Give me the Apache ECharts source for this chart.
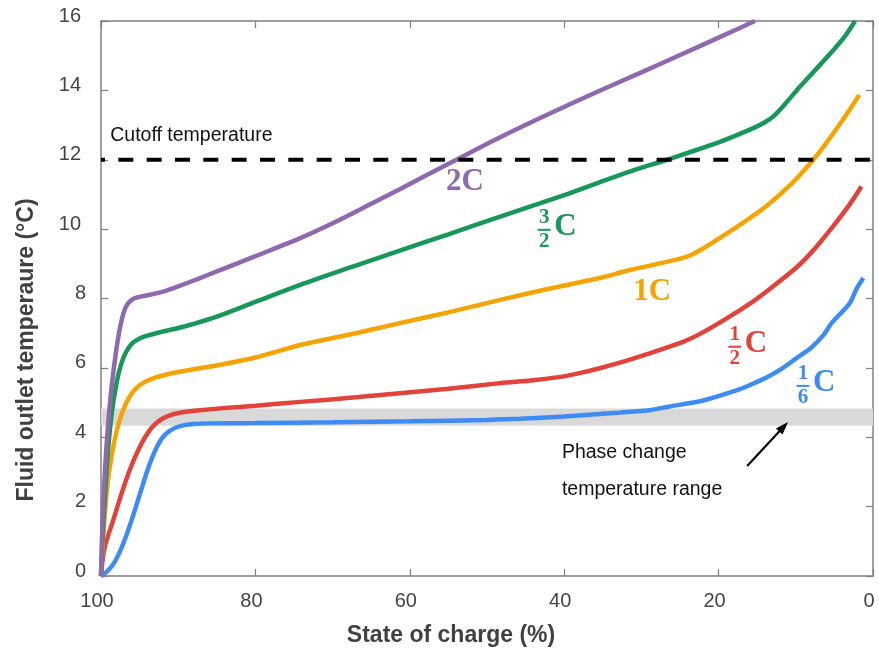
<!DOCTYPE html>
<html>
<head>
<meta charset="utf-8">
<script src="https://cdn.jsdelivr.net/npm/echarts@6/dist/echarts.min.js"></script>
<style>
  html, body { margin: 0; padding: 0; background: #ffffff; }
  #chart { width: 879px; height: 653px; }
</style>
</head>
<body>
<div id="chart"></div>
<script>
// Outlet temperature (°C) against state of charge (%) for five discharge rates
const socTicks = [100, 80, 60, 40, 20, 0];
const tempTicks = [0, 2, 4, 6, 8, 10, 12, 14, 16];

const curve2C = [
  [100, 0], [99.8, 1.6], [99.5, 3.0], [99.1, 4.3], [98.6, 5.5], [98.0, 6.55],
  [97.4, 7.3], [96.8, 7.75], [96.1, 7.95], [95.3, 8.03], [94.3, 8.08], [93.0, 8.14],
  [91.5, 8.23], [90.0, 8.35], [87.5, 8.56], [85.0, 8.78], [80, 9.22], [74.2, 9.74],
  [70, 10.17], [65, 10.73], [61.3, 11.15], [54.4, 11.95], [48.3, 12.65], [42, 13.32],
  [35.4, 13.99], [30, 14.52], [25, 15.02], [20, 15.52], [15.3, 16.0]
];
const curve3_2C = [
  [100, 0], [99.8, 1.1], [99.5, 2.3], [99.1, 3.6], [98.6, 4.7], [98.0, 5.55],
  [97.4, 6.1], [96.7, 6.48], [95.9, 6.72], [95.0, 6.85], [94.0, 6.93], [92.5, 7.02],
  [90.0, 7.15], [88.3, 7.25], [85.2, 7.46], [80, 7.9], [74.2, 8.39], [67, 8.95],
  [61.3, 9.38], [55, 9.85], [48.3, 10.36], [40, 10.98], [35.2, 11.37], [31.5, 11.66],
  [26.7, 12.0], [20, 12.5], [15.5, 12.91], [14, 13.08], [12.9, 13.25], [11.5, 13.58],
  [9.45, 14.11], [7.3, 14.63], [5.1, 15.17], [3.6, 15.57], [2.33, 16.0]
];
const curve1C = [
  [100, 0], [99.8, 0.8], [99.5, 1.8], [99.1, 2.75], [98.6, 3.5], [98.0, 4.15],
  [97.4, 4.62], [96.7, 5.0], [95.9, 5.3], [95.0, 5.5], [94.0, 5.63], [93.0, 5.72],
  [91.5, 5.81], [90.0, 5.88], [87.2, 5.99], [85.2, 6.06], [80, 6.3], [74.2, 6.66],
  [67, 7.0], [61.3, 7.29], [55, 7.6], [48.3, 7.96], [42, 8.28], [35.4, 8.59],
  [31.5, 8.82], [27, 9.04], [25, 9.15], [23.7, 9.24], [22, 9.44], [20.3, 9.68],
  [17, 10.16], [13.8, 10.67], [10.5, 11.32], [7.73, 12.0], [6, 12.5], [4.3, 13.03],
  [3, 13.45], [1.78, 13.87]
];
const curve1_2C = [
  [100, 0], [99.8, 0.45], [99.5, 0.85], [99.1, 1.15], [98.5, 1.55], [97.8, 2.05],
  [97.0, 2.6], [96.2, 3.1], [95.4, 3.52], [94.6, 3.88], [93.8, 4.17], [93.0, 4.38],
  [92.0, 4.54], [91.0, 4.64], [90.0, 4.7], [88.5, 4.75], [87.2, 4.78], [84, 4.84],
  [80, 4.91], [74.2, 5.02], [67, 5.15], [61.3, 5.27], [55, 5.4], [48.3, 5.56],
  [44, 5.64], [40.5, 5.74], [38, 5.85], [35.4, 5.99], [32, 6.2], [28.9, 6.42],
  [27.6, 6.52], [24.6, 6.75], [22.4, 6.98], [19, 7.42], [15.5, 7.92], [13.8, 8.2],
  [10.3, 8.82], [8.6, 9.18], [7.3, 9.5], [5.1, 10.1], [3, 10.72], [1.5, 11.23]
];
const curve1_6C = [
  [100, 0], [99.6, 0.06], [99.0, 0.18], [98.3, 0.38], [97.6, 0.68], [96.9, 1.06],
  [96.2, 1.5], [95.5, 1.98], [94.8, 2.48], [94.1, 2.97], [93.4, 3.4], [92.7, 3.75],
  [92.0, 4.0], [91.2, 4.17], [90.3, 4.28], [89.2, 4.35], [88, 4.38], [86, 4.4],
  [80, 4.41], [70, 4.43], [60, 4.46], [50, 4.5], [45.7, 4.53], [40, 4.6],
  [35.4, 4.67], [32.8, 4.71], [29, 4.78], [26.5, 4.88], [22, 5.06], [18.1, 5.32],
  [16, 5.5], [13.8, 5.72], [11.8, 5.98], [9.9, 6.28], [8, 6.58], [6.4, 6.95],
  [5.5, 7.25], [4.7, 7.45], [3.0, 7.87], [2.2, 8.25], [1.25, 8.59]
];

const cutoffTemp = 12;
const phaseBand = [4.33, 4.83];

// Rate labels: numerator, denominator (null = plain "nC"), anchor soc, anchor temp
const rateLabels = [
  { num: '2', den: null, soc: 52.85, temp: 11.36 },
  { num: '3', den: '2', soc: 42.6, temp: 9.98 },
  { num: '1', den: null, soc: 28.6, temp: 8.19 },
  { num: '1', den: '2', soc: 17.9, temp: 6.61 },
  { num: '1', den: '6', soc: 9.07, temp: 5.48 }
];
const rateColors = ['#8e69ad', '#17985a', '#f5a300', '#e1433b', '#3f8bf4'];
const curves = [curve2C, curve3_2C, curve1C, curve1_2C, curve1_6C];
const seriesNames = ['2C', '3/2C', '1C', '1/2C', '1/6C'];

const cutoffText = { text: 'Cutoff temperature', soc: 98.8, temp: 12.69 };
const phaseText = [
  { text: 'Phase change', soc: 40.3, temp: 3.55 },
  { text: 'temperature range', soc: 40.3, temp: 2.48 }
];
const arrowFrom = [16.3, 3.17];
const arrowTo = [11.0, 4.44];

const SANS = '"Liberation Sans", Arial, Helvetica, sans-serif';
const SERIF = '"Liberation Serif", "Times New Roman", serif';
const AXIS_GREY = '#7f7f7f';
const LABEL_GREY = '#444444';

const chart = echarts.init(document.getElementById('chart'), null, { renderer: 'canvas' });

function xAxisCfg(pos, showLabel) {
  return {
    type: 'value', position: pos, min: 0, max: 100, interval: 20, inverse: true,
    axisLine: { show: true, onZero: false, lineStyle: { color: AXIS_GREY, width: 1.5 } },
    axisTick: { show: true, inside: true, length: 7, lineStyle: { color: AXIS_GREY, width: 1.2 } },
    axisLabel: {
      show: showLabel, fontSize: 20, color: LABEL_GREY, fontFamily: SANS, margin: 15,
      padding: [0, 8, 0, 0],
      formatter: v => (socTicks.indexOf(v) >= 0 ? String(v) : '')
    },
    splitLine: { show: false }
  };
}
function yAxisCfg(pos, showLabel) {
  return {
    type: 'value', position: pos, min: 0, max: 16, interval: 2,
    axisLine: { show: true, onZero: false, lineStyle: { color: AXIS_GREY, width: 1.5 } },
    axisTick: { show: true, inside: true, length: 7, lineStyle: { color: AXIS_GREY, width: 1.2 } },
    axisLabel: {
      show: showLabel, margin: 15, padding: [0, 0, 10, 0],
      formatter: v => (tempTicks.indexOf(v) < 0 ? '' : (v >= 10 ? '{w|' + v + '}' : '{n|' + v + '}')),
      rich: {
        w: { fontSize: 20, color: LABEL_GREY, fontFamily: SANS, padding: [0, 5, 0, 0] },
        n: { fontSize: 20, color: LABEL_GREY, fontFamily: SANS }
      }
    },
    splitLine: { show: false }
  };
}

const series = [
  {
    name: 'band', type: 'line', data: [], z: 1, silent: true,
    markArea: {
      silent: true,
      itemStyle: { color: '#d9d9d9' },
      data: [[{ yAxis: phaseBand[0] }, { yAxis: phaseBand[1] }]]
    }
  }
];
// Slowest rate drawn first so the faster curves sit on top near full charge
for (let i = curves.length - 1; i >= 0; i--) {
  series.push({
    name: seriesNames[i], type: 'line', data: curves[i], showSymbol: false, z: 3,
    smooth: 0.3, silent: true,
    lineStyle: { color: rateColors[i], width: 4.5, cap: 'butt' },
    itemStyle: { color: rateColors[i] }
  });
}
series.push({
  name: 'cutoff', type: 'line', data: [[100, cutoffTemp], [0, cutoffTemp]],
  showSymbol: false, z: 5, silent: true,
  lineStyle: { color: '#000000', width: 4, type: [15, 13.33], dashOffset: 11 }
});

chart.setOption({
  animation: false,
  backgroundColor: '#ffffff',
  grid: { left: 101, right: 6, top: 21, bottom: 77, containLabel: false },
  xAxis: [xAxisCfg('bottom', true), xAxisCfg('top', false)],
  yAxis: [yAxisCfg('left', true), yAxisCfg('right', false)],
  series: series
});

// Annotations placed from data coordinates
const px = (soc, t) => chart.convertToPixel({ xAxisIndex: 0, yAxisIndex: 0 }, [soc, t]);
const graphics = [];

graphics.push({
  type: 'text', x: 27, y: 350, rotation: Math.PI / 2, z: 10,
  style: { text: 'Fluid outlet temperaure (°C)', font: 'bold 23px ' + SANS, fill: '#404040',
           align: 'center', verticalAlign: 'middle' }
});
graphics.push({
  type: 'text', x: 451, y: 636, z: 10,
  style: { text: 'State of charge (%)', font: 'bold 23px ' + SANS, fill: '#404040',
           align: 'center', verticalAlign: 'middle' }
});

const cp = px(cutoffText.soc, cutoffText.temp);
graphics.push({
  type: 'text', x: cp[0], y: cp[1], z: 10,
  style: { text: cutoffText.text, font: '19.5px ' + SANS, fill: '#111111', align: 'left', verticalAlign: 'middle' }
});
phaseText.forEach(p => {
  const q = px(p.soc, p.temp);
  graphics.push({
    type: 'text', x: q[0], y: q[1], z: 10,
    style: { text: p.text, font: '19.5px ' + SANS, fill: '#111111', align: 'left', verticalAlign: 'middle' }
  });
});

// Arrow pointing at the phase change band
const a0 = px(arrowFrom[0], arrowFrom[1]);
const a1 = px(arrowTo[0], arrowTo[1]);
const ang = Math.atan2(a1[1] - a0[1], a1[0] - a0[0]);
const headLen = 13, headHalf = 4.5;
const bx = a1[0] - headLen * Math.cos(ang), by = a1[1] - headLen * Math.sin(ang);
graphics.push({
  type: 'line', z: 10,
  shape: { x1: a0[0], y1: a0[1], x2: bx + 2 * Math.cos(ang), y2: by + 2 * Math.sin(ang) },
  style: { stroke: '#000000', lineWidth: 2.2 }
});
graphics.push({
  type: 'polygon', z: 10,
  shape: { points: [
    [a1[0], a1[1]],
    [bx - headHalf * Math.sin(ang), by + headHalf * Math.cos(ang)],
    [bx + headHalf * Math.sin(ang), by - headHalf * Math.cos(ang)]
  ] },
  style: { fill: '#000000' }
});

// Rate labels, with stacked fractions where needed
rateLabels.forEach((r, i) => {
  const col = rateColors[i];
  const p = px(r.soc, r.temp);
  if (r.den === null) {
    graphics.push({
      type: 'text', x: p[0], y: p[1], z: 10,
      style: { text: r.num + 'C', font: 'bold 31px ' + SERIF, fill: col, align: 'center', verticalAlign: 'middle' }
    });
  } else {
    graphics.push({
      type: 'text', x: p[0], y: p[1] - 12, z: 10,
      style: { text: r.num, font: 'bold 21px ' + SERIF, fill: col, align: 'center', verticalAlign: 'middle' }
    });
    graphics.push({
      type: 'rect', z: 10, shape: { x: p[0] - 6.5, y: p[1] - 1, width: 13, height: 2 },
      style: { fill: col }
    });
    graphics.push({
      type: 'text', x: p[0], y: p[1] + 12, z: 10,
      style: { text: r.den, font: 'bold 21px ' + SERIF, fill: col, align: 'center', verticalAlign: 'middle' }
    });
    graphics.push({
      type: 'text', x: p[0] + 10, y: p[1] - 3, z: 10,
      style: { text: 'C', font: 'bold 31px ' + SERIF, fill: col, align: 'left', verticalAlign: 'middle' }
    });
  }
});

chart.setOption({ graphic: graphics });
</script>
</body>
</html>
